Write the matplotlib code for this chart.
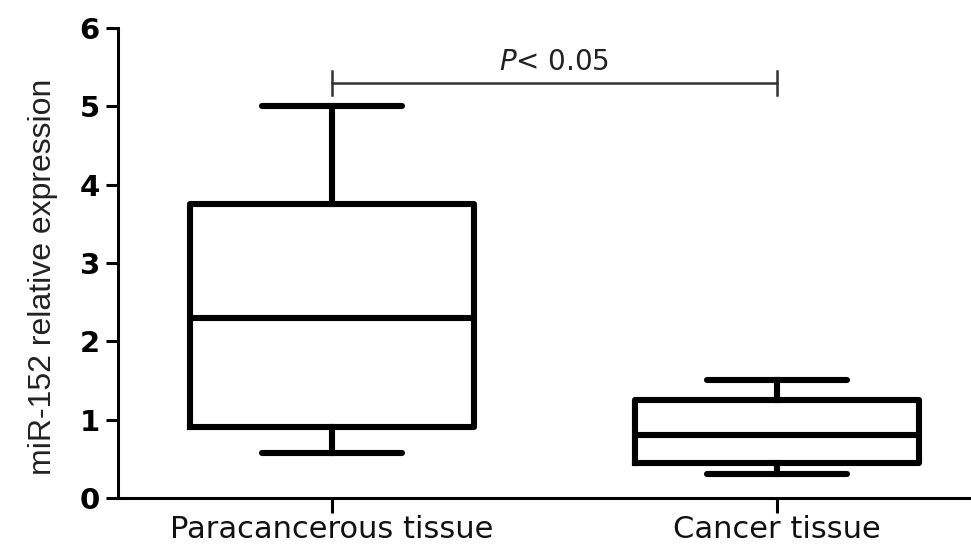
import matplotlib.pyplot as plt

plt.rcParams['font.family'] = ['DejaVu Sans']

groups = ["Paracancerous tissue", "Cancer tissue"]
whisker_low = [0.58, 0.30]
quartile_1 = [0.90, 0.45]
medians = [2.30, 0.80]
quartile_3 = [3.75, 1.25]
whisker_high = [5.00, 1.50]
p_label = "$\\it{P}$< 0.05"
sig_y = 5.3

stats = []
for i, name in enumerate(groups):
    stats.append({
        "label": name,
        "whislo": whisker_low[i],
        "q1": quartile_1[i],
        "med": medians[i],
        "q3": quartile_3[i],
        "whishi": whisker_high[i],
        "fliers": [],
    })

fig = plt.figure(figsize=(9.71, 5.44), dpi=100)
ax = fig.add_axes([0.1215, 0.0846, 0.8785, 0.8639])

lw = 4.4
ax.bxp(stats, positions=[1, 2], widths=0.64, showfliers=False,
       boxprops=dict(linewidth=lw, color="black"),
       medianprops=dict(linewidth=lw, color="black"),
       whiskerprops=dict(linewidth=lw, color="black"),
       capprops=dict(linewidth=lw, color="black", solid_capstyle="round"),
       capwidths=0.315)

# significance bracket
ax.plot([1, 2], [sig_y, sig_y], color="#333333", lw=1.8, clip_on=False)
for xb in [1, 2]:
    ax.plot([xb, xb], [sig_y - 0.15, sig_y + 0.15], color="#333333", lw=1.8, clip_on=False)
ax.text(1.5, sig_y + 0.09, p_label, ha="center", va="bottom", fontsize=20, color="#222222")

ax.set_xlim(0.519, 2.436)
ax.set_ylim(0, 6)
ax.set_yticks(range(0, 7))
ax.set_yticklabels([str(v) for v in range(0, 7)], fontsize=21, fontweight="bold")
ax.set_xticks([1, 2])
ax.set_xticklabels(groups, fontsize=22, color="#111111")
ax.set_ylabel("miR-152 relative expression", fontsize=23, color="#222222",
              family="Liberation Sans")
ax.yaxis.set_label_coords(-0.07, 0.47)

ax.spines["top"].set_visible(False)
ax.spines["right"].set_visible(False)
ax.spines["left"].set_linewidth(2.2)
ax.spines["bottom"].set_linewidth(2.2)
ax.tick_params(axis="y", length=9, width=2.2, pad=4)
ax.tick_params(axis="x", length=11, width=2.2, pad=1)

fig.savefig("out.png", dpi=100)
